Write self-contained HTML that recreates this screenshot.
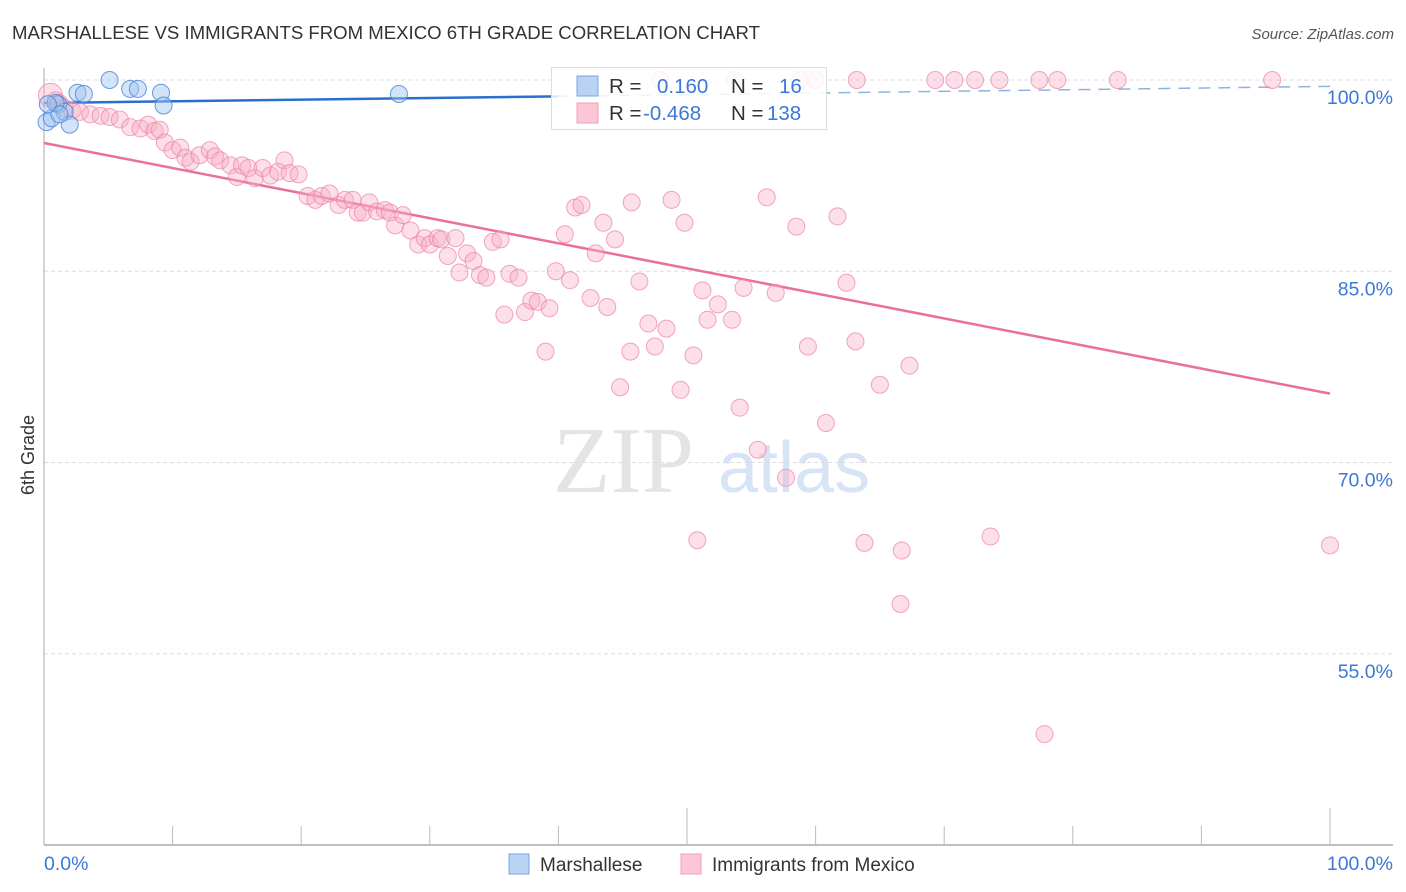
<!DOCTYPE html>
<html><head><meta charset="utf-8"><style>
body{margin:0;background:#fff;font-family:"Liberation Sans",sans-serif}
svg{display:block}
</style></head><body>
<svg id="c" width="1406" height="892" xmlns="http://www.w3.org/2000/svg">
<text x="12" y="39" font-size="18.6" fill="#333" textLength="748">MARSHALLESE VS IMMIGRANTS FROM MEXICO 6TH GRADE CORRELATION CHART</text>
<text x="1394" y="39" font-size="15" fill="#555" font-style="italic" text-anchor="end">Source: ZipAtlas.com</text>
<text x="34" y="455" font-size="18" fill="#333" text-anchor="middle" transform="rotate(-90 34 455)">6th Grade</text>
<g><text x="553" y="492" font-size="94" fill="#e4e4e4" font-family="Liberation Serif,serif">ZIP</text><text x="718" y="492" font-size="72" fill="#d6e4f5">atlas</text></g>
<g id="grid"></g><g id="axes"></g><g id="lines"></g><g id="pts"></g>
<g>
<rect x="551.5" y="67.5" width="275" height="62" fill="rgba(255,255,255,0.85)" stroke="#ddd"/>
<rect x="577" y="76" width="21" height="20" fill="#b9d3f5" stroke="#7aa6e0"/>
<rect x="577" y="103" width="21" height="20" fill="#fcc6d6" stroke="#f0a0ba"/>
<g font-size="20.5"><text x="609" y="93" fill="#333">R =</text><text x="657" y="93" fill="#3b78d8">0.160</text><text x="731" y="93" fill="#333">N =</text><text x="779" y="93" fill="#3b78d8">16</text>
<text x="609" y="120" fill="#333">R =</text><text x="643" y="120" fill="#3b78d8">-0.468</text><text x="731" y="120" fill="#333">N =</text><text x="767" y="120" fill="#3b78d8">138</text></g>
</g>
<g font-size="19">
<rect x="509" y="854" width="20" height="20" fill="#b9d3f5" stroke="#7aa6e0"/><text x="540" y="871" fill="#333">Marshallese</text>
<rect x="681" y="854" width="20" height="20" fill="#fcc6d6" stroke="#f0a0ba"/><text x="712" y="871" fill="#333">Immigrants from Mexico</text>
</g>
</svg>
<script>
const yTicks=[100,85,70,55];
const xTickLabels=["0.0%","100.0%"];
const blueX=[0.2,0.6,1.1,1.6,2.0,2.6,3.1,5.1,6.7,7.3,9.1,9.3,27.6,0.9,1.2,0.3];
const blueY=[96.7,97.0,98.1,97.5,96.5,99.0,98.9,100.0,99.3,99.3,99.0,98.0,98.9,98.2,97.3,98.1];
const pinkX=[47.9,53.7,58.8,60.0,63.2,69.3,70.8,72.4,74.3,77.4,78.8,83.5,95.5,
0.5,0.9,1.2,1.6,2.2,2.8,3.6,4.4,5.1,5.9,6.7,7.5,8.1,8.6,9.0,9.4,10.0,10.6,11.0,11.4,12.1,12.9,13.3,13.7,14.5,15.0,15.4,15.9,16.4,17.0,17.6,18.2,18.7,19.1,19.8,20.5,21.1,21.6,22.2,22.9,23.4,24.0,24.4,24.8,25.3,25.9,26.5,26.9,27.3,27.9,28.5,29.1,29.6,30.0,30.6,30.9,31.4,32.0,32.3,32.9,33.4,33.9,34.4,34.9,35.5,35.8,36.2,36.9,37.4,37.9,38.4,39.0,39.3,39.8,40.5,40.9,41.3,41.8,42.5,42.9,43.5,43.8,44.4,44.8,45.6,45.7,46.3,47.0,47.5,48.4,48.8,49.5,49.8,50.5,50.8,51.2,51.6,52.4,53.5,54.1,54.4,55.5,56.2,56.9,57.7,58.5,59.4,60.8,61.7,62.4,63.1,63.8,65.0,66.6,66.7,67.3,73.6,77.8,100.0];
const pinkY=[100,100,100,100,100,100,100,100,100,100,100,100,100,
98.8,98.4,98.2,97.8,97.6,97.5,97.3,97.2,97.1,96.9,96.3,96.2,96.5,96.0,96.1,95.1,94.5,94.7,93.9,93.6,94.1,94.5,94.0,93.7,93.3,92.4,93.3,93.1,92.3,93.1,92.5,92.8,93.7,92.7,92.6,90.9,90.6,90.9,91.1,90.2,90.6,90.6,89.6,89.6,90.4,89.7,89.8,89.6,88.6,89.4,88.2,87.1,87.6,87.1,87.6,87.5,86.2,87.6,84.9,86.4,85.8,84.7,84.5,87.3,87.5,81.6,84.8,84.5,81.8,82.7,82.6,78.7,82.1,85.0,87.9,84.3,90.0,90.2,82.9,86.4,88.8,82.2,87.5,75.9,78.7,90.4,84.2,80.9,79.1,80.5,90.6,75.7,88.8,78.4,63.9,83.5,81.2,82.4,81.2,74.3,83.7,71.0,90.8,83.3,68.8,88.5,79.1,73.1,89.3,84.1,79.5,63.7,76.1,58.9,63.1,77.6,64.2,48.7,63.5];
const blueTrend=[98.2,99.5];
const pinkTrend=[95.06,75.4];
const NS="http://www.w3.org/2000/svg";
const X=v=>44+v*12.86, Y=v=>80+(100-v)*12.75;
function mk(t,a,p){const e=document.createElementNS(NS,t);for(const k in a)e.setAttribute(k,a[k]);document.getElementById(p).appendChild(e);return e;}
yTicks.forEach((t,i)=>{
 const g=mk('line',{x1:44,x2:1393,y1:Y(t),y2:Y(t),stroke:'#ddd','stroke-dasharray':'4,3'},'grid');
 
 
 const l=mk('text',{x:1393,y:Y(t)+24,'font-size':19.5,fill:'#3b78d8','text-anchor':'end'},'grid');
 l.textContent=t.toFixed(1)+'%';
 
 
});
const ax=mk('line',{x1:44,x2:1393,y1:845,y2:845,stroke:'#aaa','stroke-width':1.5},'axes');


const ay=mk('line',{x1:44,x2:44,y1:68,y2:845,stroke:'#aaa'},'axes');


for(let i=1;i<=10;i++){const t=mk('line',{x1:X(i*10),x2:X(i*10),y1:i%5==0?808:826,y2:845,stroke:'#bbb'},'axes');
 
 }
xTickLabels.forEach((s,i)=>{const t=mk('text',{x:i?1393:44,y:870,'font-size':19.5,fill:'#3b78d8','text-anchor':i?'end':'start'},'axes');t.textContent=s;
 
 });
const bs=mk('line',{x1:X(0),y1:Y(blueTrend[0]),x2:X(40),y2:Y(blueTrend[0]+0.4*(blueTrend[1]-blueTrend[0])),stroke:'#2a6fd0','stroke-width':2.5},'lines');


const bd=mk('line',{x1:X(40),y1:Y(blueTrend[0]+0.4*(blueTrend[1]-blueTrend[0])),x2:X(100),y2:Y(blueTrend[1]),stroke:'#8fb2e3','stroke-width':1.5,'stroke-dasharray':'12,8'},'lines');


const pl=mk('line',{x1:X(0),y1:Y(pinkTrend[0]),x2:X(100),y2:Y(pinkTrend[1]),stroke:'#e8709a','stroke-width':2.5},'lines');


pinkX.forEach((x,i)=>{const c=mk('circle',{cx:X(x),cy:Y(pinkY[i]),r:i==13?12:8.5,fill:'rgba(248,175,198,0.4)',stroke:'rgba(236,130,165,0.7)','stroke-width':1},'pts');
 
 });
blueX.forEach((x,i)=>{const c=mk('circle',{cx:X(x),cy:Y(blueY[i]),r:8.5,fill:'rgba(160,196,240,0.45)',stroke:'rgba(70,130,215,0.8)','stroke-width':1},'pts');
 
 });
</script>
</body></html>
